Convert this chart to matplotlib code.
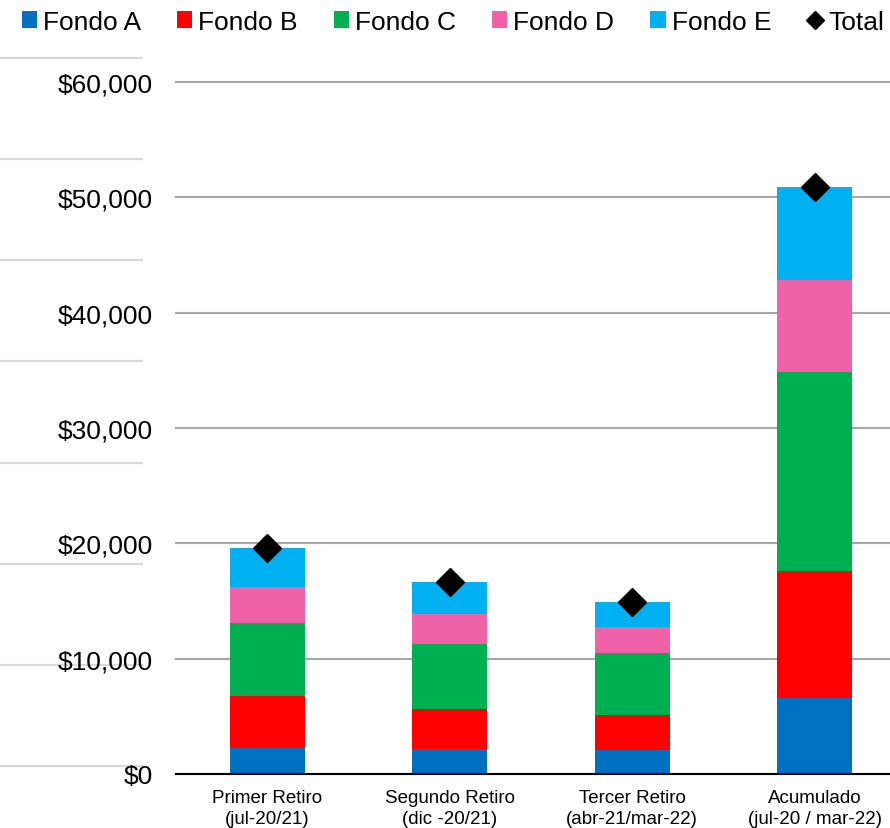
import matplotlib
matplotlib.use("Agg")
import matplotlib.pyplot as plt
import numpy as np

plt.rcParams['font.family'] = ['Liberation Sans', 'DejaVu Sans']

categories = ["Primer Retiro\n(jul-20/21)", "Segundo Retiro\n(dic -20/21)",
              "Tercer Retiro\n(abr-21/mar-22)", "Acumulado\n(jul-20 / mar-22)"]
fondo_a = [2250, 2170, 2080, 6590]
fondo_b = [4510, 3490, 3060, 11040]
fondo_c = [6360, 5580, 5320, 17250]
fondo_d = [3070, 2610, 2310, 7980]
fondo_e = [3410, 2830, 2120, 8040]
total = [19600, 16680, 14890, 50900]
series_names = ["Fondo A", "Fondo B", "Fondo C", "Fondo D", "Fondo E"]
colors = ["#0070C0", "#FF0000", "#00B050", "#EF62A8", "#00B0F0"]
yticks = [0, 10000, 20000, 30000, 40000, 50000, 60000]

W, H = 890, 829
fig = plt.figure(figsize=(W / 100, H / 100), dpi=100)

# background decorative light lines on the left
bg = fig.add_axes([0, (829 - 817.6) / H, 143 / W, (817.6 - 8.4) / H])
bg.set_ylim(-0.5, 7.5)
bg.set_xlim(0, 1)
bg.set_yticks(range(8))
bg.grid(axis='y', color='#D9D9D9', linewidth=1.6)
bg.tick_params(left=False, bottom=False, labelleft=False, labelbottom=False)
for s in bg.spines.values():
    s.set_visible(False)
bg.patch.set_alpha(0)

ax = fig.add_axes([176 / W, (829 - 775) / H, (906 - 176) / W, 692 / H])
ax.patch.set_alpha(0)
x = np.arange(len(categories))
bottom = np.zeros(len(categories))
handles = []
for name, vals, c in zip(series_names, [fondo_a, fondo_b, fondo_c, fondo_d, fondo_e], colors):
    b = ax.bar(x, vals, bottom=bottom, width=0.41, color=c, label=name, zorder=3)
    handles.append(b)
    bottom += np.array(vals)
tl, = ax.plot(x, total, linestyle='none', marker='D', markersize=14, color='black',
              label='Total', zorder=4, clip_on=False)
handles.append(tl)

ax.set_xlim(-0.5, 3.5)
ax.set_ylim(0, 60000)
ax.set_yticks(yticks)
ax.set_yticklabels([f"${v:,}" for v in yticks], fontsize=19)
ax.set_xticks(x)
ax.set_xticklabels(categories, fontsize=13.5, linespacing=1.25)
ax.tick_params(axis='both', length=0)
ax.tick_params(axis='y', pad=16.5)
ax.tick_params(axis='x', pad=11)
ax.grid(axis='y', color='#A6A6A6', linewidth=1.5, zorder=1)
for g in ax.get_ygridlines():
    g.set_clip_on(False)
for s in ['top', 'right', 'left']:
    ax.spines[s].set_visible(False)
ax.spines['bottom'].set_color('black')
ax.spines['bottom'].set_linewidth(1.5)
ax.spines['bottom'].set_zorder(5)

fig.legend(handles=handles, labels=series_names + ['Total'], loc='center',
           bbox_to_anchor=(453 / W, 1 - 23 / H), ncol=6, frameon=False, fontsize=19,
           handlelength=0.58, handleheight=0.58, handletextpad=0.23,
           columnspacing=1.36, borderaxespad=0, markerscale=0.64)

fig.savefig("out.png", dpi=100)
